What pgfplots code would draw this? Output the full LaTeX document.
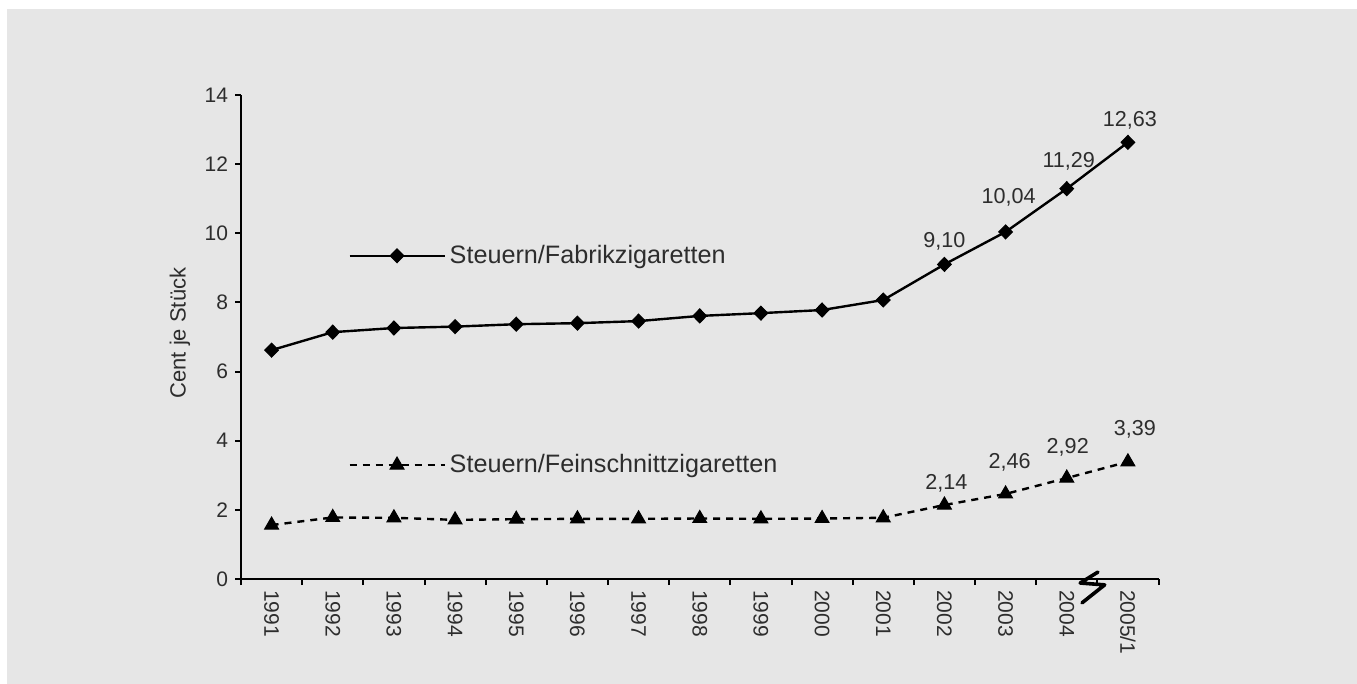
\documentclass[border=0pt]{standalone}
\usepackage{fontspec}
\setmainfont{Liberation Sans}
\usepackage{pgfplots}
\pgfplotsset{compat=1.18}
\definecolor{bg}{RGB}{230,230,230}
\definecolor{txt}{RGB}{45,45,45}
\begin{document}
\begin{tikzpicture}
\path[use as bounding box] (0,0) rectangle (678.5pt,-342pt);
\fill[white] (0,0) rectangle (678.5pt,-342pt);
\fill[bg] (3.5pt,-4.5pt) rectangle (678.5pt,-342pt);
\begin{axis}[
  at={(120.5pt,-289.5pt)}, anchor=south west,
  scale only axis, width=458.75pt, height=242pt,
  xmin=-0.5, xmax=14.5, ymin=0, ymax=14,
  clip=false,
  axis x line=bottom, axis y line=left,
  axis line style={-, line width=1pt, black},
  xtick={0,...,14},
  xticklabels={1991,1992,1993,1994,1995,1996,1997,1998,1999,2000,2001,2002,2003,2004,2005/1},
  major x tick style={draw=none},
  minor xtick={-0.5,0.5,1.5,2.5,3.5,4.5,5.5,6.5,7.5,8.5,9.5,10.5,11.5,12.5,13.5,14.5},
  minor x tick style={line width=1pt, black},
  minor tick length=3pt,
  ytick={0,2,...,14},
  major y tick style={line width=1pt, black},
  major tick length=3pt,
  tick align=outside,
  /pgf/number format/assume math mode=true,
  xticklabel style={rotate=-90, anchor=west, font=\fontsize{10.5}{12}\selectfont, text=txt, xshift=-1pt},
  yticklabel style={font=\fontsize{10.5}{12}\selectfont, text=txt},
  ylabel={Cent je Stück},
  every axis y label/.style={at={(axis description cs:-0.0665,0.508)}, rotate=90, anchor=center, font=\fontsize{11}{13}\selectfont, text=txt},
  legend cell align=left,
  legend style={at={(axis cs:1.15,9.9)}, anchor=north west, draw=none, fill=none,
    font=\fontsize{12.6}{14}\selectfont, text=txt, row sep=90pt},
  legend image code/.code={\draw[mark repeat=2,mark phase=2,#1] plot coordinates {(0pt,0pt) (23.75pt,0pt) (47.5pt,0pt)};},
]
\addplot[black, line width=1.2pt, mark=diamond*, mark size=3.5pt, mark options={solid, fill=black, line width=0.5pt, xscale=1.3}]
coordinates {(0,6.62) (1,7.14) (2,7.26) (3,7.30) (4,7.37) (5,7.40) (6,7.46) (7,7.61) (8,7.69) (9,7.78) (10,8.07) (11,9.10) (12,10.04) (13,11.29) (14,12.63)};
\addlegendentry{Steuern/Fabrikzigaretten}
\addplot[black, line width=1.2pt, dash pattern=on 3.5pt off 3pt, mark=triangle*, mark size=4pt, mark options={solid, fill=black, line width=0.5pt}]
coordinates {(0,1.56) (1,1.78) (2,1.77) (3,1.71) (4,1.73) (5,1.74) (6,1.74) (7,1.75) (8,1.74) (9,1.75) (10,1.77) (11,2.14) (12,2.46) (13,2.92) (14,3.39)};
\addlegendentry{Steuern/Feinschnittzigaretten}
\tikzset{lab/.style={font=\fontsize{10.8}{12}\selectfont, text=txt, anchor=center}}
\node[lab, yshift=11.5pt] at (axis cs:11,9.10) {9,10};
\node[lab, yshift=17.5pt, xshift=1.5pt] at (axis cs:12,10.04) {10,04};
\node[lab, yshift=13.5pt, xshift=1pt] at (axis cs:13,11.29) {11,29};
\node[lab, yshift=11pt, xshift=1pt] at (axis cs:14,12.63) {12,63};
\node[lab, yshift=11pt, xshift=1pt] at (axis cs:11,2.14) {2,14};
\node[lab, yshift=16pt, xshift=2pt] at (axis cs:12,2.46) {2,46};
\node[lab, yshift=15.5pt, xshift=0.5pt] at (axis cs:13,2.92) {2,92};
\node[lab, yshift=16pt, xshift=3.5pt] at (axis cs:14,3.39) {3,39};
\draw[black, line width=1.8pt, line join=round, line cap=round] (axis cs:13.51,0.20) -- (axis cs:13.22,-0.116) -- (axis cs:13.62,-0.17) -- (axis cs:13.25,-0.69);
\end{axis}
\end{tikzpicture}
\end{document}
